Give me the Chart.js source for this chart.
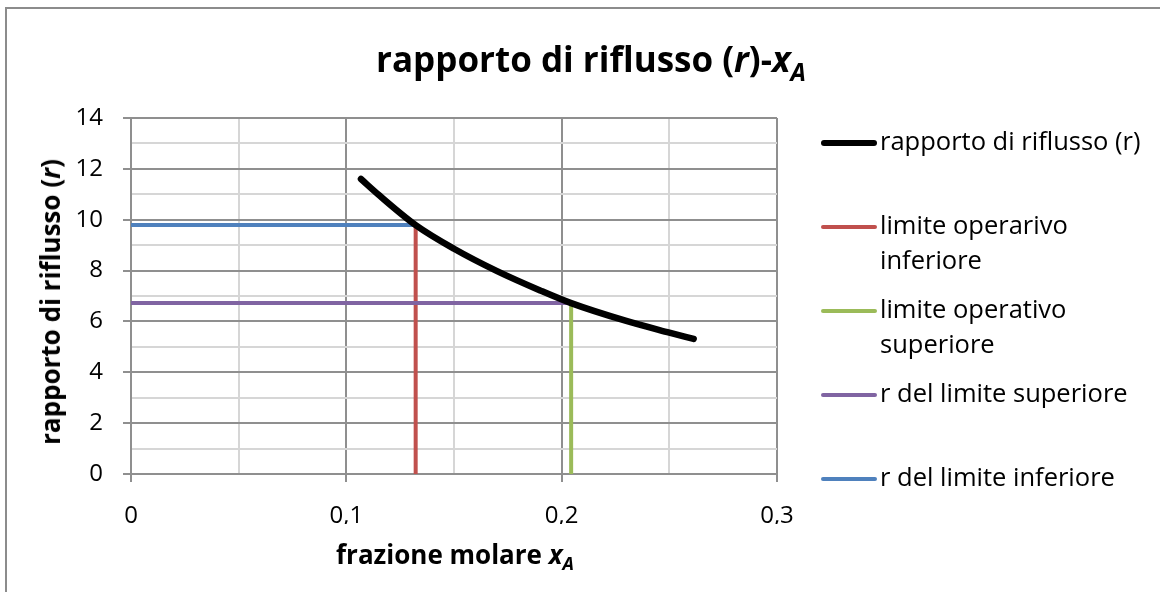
<!DOCTYPE html>
<html lang="it">
<head>
<meta charset="utf-8">
<script src="https://cdn.jsdelivr.net/npm/chart.js@4.4.0/dist/chart.umd.min.js"></script>
<style>
  body { margin: 0; background: #fff; font-family: "Open Sans", "Noto Sans", sans-serif; color: #000; font-variant-ligatures: none; }
  #wrap { position: relative; width: 1160px; height: 592px; overflow: hidden; }
  #cornice { position: absolute; left: 5px; top: 7px; width: 1200px; height: 640px; border: 2px solid #8c8c8c; box-sizing: border-box; }
  #grafico { position: absolute; left: 0; top: 0; }
  .titolo { position: absolute; font-weight: bold; white-space: nowrap; line-height: normal; }
  .titolo sub { font-size: 0.7em; vertical-align: -0.35em; line-height: 0; }
  #titolo { left: 591px; top: 35px; font-size: 35px; transform: translateX(-50%); }
  #titoloX { left: 455px; top: 536px; font-size: 26px; transform: translateX(-50%); }
  #titoloY { left: 50px; top: 302px; font-size: 26px; transform: translate(-50%, -50%) rotate(-90deg); }
  #legenda { position: absolute; left: 821px; top: 0; }
  .voce { position: absolute; left: 0; width: 330px; height: 70px; }
  .voce .linea { position: absolute; left: 0; width: 56px; border-radius: 3px; }
  .voce .testo { position: absolute; left: 59px; top: -3px; font-size: 25.5px; line-height: 35px; white-space: pre-line; }
</style>
</head>
<body>
<div id="wrap">
  <div id="cornice"></div>
  <canvas id="grafico" width="1160" height="592"></canvas>
  <div class="titolo" id="titolo">rapporto di riflusso (<i>r</i>)-<i>x<sub>A</sub></i></div>
  <div class="titolo" id="titoloY">rapporto di riflusso (<i>r</i>)</div>
  <div class="titolo" id="titoloX">frazione molare <i>x<sub>A</sub></i></div>
  <div id="legenda"></div>
</div>
<script>
const frazioneXA = [0.1068, 0.1150, 0.1322, 0.1500, 0.1700, 0.1900, 0.2044, 0.2300, 0.2500, 0.2613];
const rapportoR = [11.60, 10.98, 9.79, 8.86, 7.98, 7.22, 6.72, 6.02, 5.56, 5.31];

// limiti operativi
const xLimiteInferiore = 0.1322;
const xLimiteSuperiore = 0.2044;
const rLimiteInferiore = 9.79;
const rLimiteSuperiore = 6.72;

const nomiSerie = [
    'rapporto di riflusso (r)',
    'limite operarivo\ninferiore',
    'limite operativo\nsuperiore',
    'r del limite superiore',
    'r del limite inferiore'
];

const tickX = [0, 0.1, 0.2, 0.3];
const tickY = [0, 2, 4, 6, 8, 10, 12, 14];

const grigioScuro = '#8f8f8f';
const grigioChiaro = '#d6d6d6';

// un tick è principale se compare tra le etichette
const isPrincipale = (valore, lista) => lista.some((t) => Math.abs(t - valore) < 1e-6);

const formatta = (v) => (Math.round(v * 10) / 10).toString().replace('.', ',');

const curva = frazioneXA.map((x, i) => ({ x: x, y: rapportoR[i] }));

const datasets = [
    {
        label: nomiSerie[0],
        data: curva,
        borderColor: '#000000',
        borderWidth: 6.5,
        cubicInterpolationMode: 'monotone',
        borderCapStyle: 'round',
        order: 0
    },
    {
        label: nomiSerie[1],
        data: [{ x: xLimiteInferiore, y: 0 }, { x: xLimiteInferiore, y: rLimiteInferiore }],
        borderColor: '#c0504d',
        borderWidth: 4,
        order: 3
    },
    {
        label: nomiSerie[2],
        data: [{ x: xLimiteSuperiore, y: 0 }, { x: xLimiteSuperiore, y: rLimiteSuperiore }],
        borderColor: '#9bbb59',
        borderWidth: 4,
        order: 4
    },
    {
        label: nomiSerie[3],
        data: [{ x: 0, y: rLimiteSuperiore }, { x: xLimiteSuperiore, y: rLimiteSuperiore }],
        borderColor: '#8064a2',
        borderWidth: 4,
        order: 1
    },
    {
        label: nomiSerie[4],
        data: [{ x: 0, y: rLimiteInferiore }, { x: xLimiteInferiore, y: rLimiteInferiore }],
        borderColor: '#4f81bd',
        borderWidth: 4,
        order: 2
    }
];

datasets.forEach((d) => {
    d.showLine = true;
    d.pointRadius = 0;
    d.pointHoverRadius = 0;
    d.fill = false;
});

const fontTick = { family: '"Open Sans", "Noto Sans", sans-serif', size: 24 };

const chart = new Chart(document.getElementById('grafico'), {
    type: 'scatter',
    data: { datasets: datasets },
    options: {
        responsive: false,
        animation: false,
        devicePixelRatio: 1,
        layout: { padding: { left: 0, top: 118, right: 383, bottom: 68 } },
        plugins: {
            legend: { display: false },
            tooltip: { enabled: false },
            title: { display: false }
        },
        scales: {
            x: {
                type: 'linear',
                min: 0,
                max: 0.3,
                afterFit: (scale) => { scale.height = 50; },
                ticks: {
                    stepSize: 0.05,
                    autoSkip: false,
                    maxRotation: 0,
                    padding: 20,
                    color: '#000',
                    font: fontTick,
                    callback: (v) => isPrincipale(v, tickX) ? formatta(v) : ''
                },
                grid: {
                    lineWidth: 2,
                    tickLength: 8,
                    color: (c) => isPrincipale(c.tick.value, tickX) ? grigioScuro : grigioChiaro,
                    tickColor: (c) => isPrincipale(c.tick.value, tickX) ? grigioScuro : 'rgba(0,0,0,0)'
                },
                border: { color: grigioScuro, width: 2 }
            },
            y: {
                type: 'linear',
                min: 0,
                max: 14,
                afterFit: (scale) => { scale.width = 131; },
                ticks: {
                    stepSize: 1,
                    autoSkip: false,
                    padding: 20,
                    color: '#000',
                    font: fontTick,
                    callback: (v) => isPrincipale(v, tickY) ? v.toString() : ''
                },
                grid: {
                    lineWidth: 2,
                    tickLength: 8,
                    color: (c) => isPrincipale(c.tick.value, tickY) ? grigioScuro : grigioChiaro,
                    tickColor: (c) => isPrincipale(c.tick.value, tickY) ? grigioScuro : 'rgba(0,0,0,0)'
                },
                border: { color: grigioScuro, width: 2 }
            }
        }
    }
});

// legenda a destra costruita dalle serie del grafico
const legenda = document.getElementById('legenda');
chart.data.datasets.forEach((d, i) => {
    const voce = document.createElement('div');
    voce.className = 'voce';
    voce.style.top = (143 + i * 84 - 17.5) + 'px';
    const linea = document.createElement('div');
    linea.className = 'linea';
    const spessore = i === 0 ? 6 : 4;
    linea.style.height = spessore + 'px';
    linea.style.top = (17.5 - spessore / 2) + 'px';
    linea.style.background = d.borderColor;
    const testo = document.createElement('div');
    testo.className = 'testo';
    testo.textContent = d.label;
    voce.appendChild(linea);
    voce.appendChild(testo);
    legenda.appendChild(voce);
});
</script>
</body>
</html>
